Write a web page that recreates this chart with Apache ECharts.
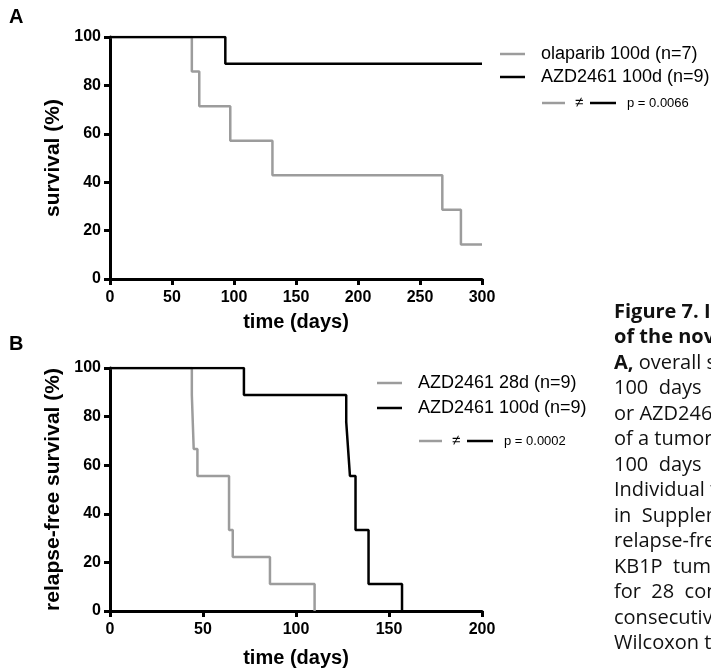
<!DOCTYPE html>
<html>
<head>
<meta charset="utf-8">
<script src="https://cdn.jsdelivr.net/npm/echarts@6/dist/echarts.min.js"></script>
<style>
  html, body { margin: 0; padding: 0; background: #fff; }
  #chart { width: 711px; height: 669px; }
</style>
</head>
<body>
<div id="chart"></div>
<script>
// panel A: overall survival
const olaparibTimes = [0, 66, 72, 97, 131, 268, 283, 300]
const olaparibSurv = [100, 85.7, 71.4, 57.1, 42.9, 28.6, 14.3, 14.3]
const azd100ATimes = [0, 93, 300]
const azd100ASurv = [100, 88.9, 88.9]

// panel B: relapse-free survival
const azd28Times = [0, 44, 45, 47, 64, 66, 86, 110]
const azd28Surv = [100, 88.9, 66.7, 55.6, 33.3, 22.2, 11.1, 0]
const azd100BTimes = [0, 72, 127, 128, 129, 132, 139, 157]
const azd100BSurv = [100, 88.9, 77.8, 66.7, 55.6, 33.3, 11.1, 0]

const legendA = ['olaparib 100d (n=7)', 'AZD2461 100d (n=9)']
const legendB = ['AZD2461 28d (n=9)', 'AZD2461 100d (n=9)']
const pValueA = 'p = 0.0066'
const pValueB = 'p = 0.0002'

const captionLines = [
  'Figure 7. In vivo',
  'of the novel PARP',
  'A, overall survival',
  '100  days  with',
  'or AZD2461',
  'of a tumor',
  '100  days  of',
  'Individual tumor',
  'in  Supplementary',
  'relapse-free',
  'KB1P  tumor',
  'for  28  consecutive',
  'consecutive days',
  'Wilcoxon test',
]

const GREY = '#9c9c9c'
const BLACK = '#000'
const FONT = "'Liberation Sans', Arial, sans-serif"
const CAP_FONT = "'Open Sans', sans-serif"

const zip = (xs, ys) => xs.map((x, i) => [x, ys[i]])

function xAxisOpt(gridIndex, max, interval, gap) {
  return {
    type: 'value',
    gridIndex,
    min: 0,
    max,
    interval,
    name: 'time (days)',
    nameLocation: 'middle',
    nameGap: gap,
    nameTextStyle: { fontFamily: FONT, fontWeight: 'bold', fontSize: 20, color: BLACK },
    axisLine: { show: true, lineStyle: { color: BLACK, width: 3 } },
    axisTick: { show: true, length: 6, lineStyle: { color: BLACK, width: 3 } },
    axisLabel: { fontFamily: FONT, fontWeight: 'bold', fontSize: 16, color: BLACK, margin: 11 },
    splitLine: { show: false },
  }
}

function yAxisOpt(gridIndex, name) {
  return {
    type: 'value',
    gridIndex,
    min: 0,
    max: 100,
    interval: 20,
    name,
    nameLocation: 'middle',
    nameGap: 45,
    nameTextStyle: { fontFamily: FONT, fontWeight: 'bold', fontSize: 21, color: BLACK },
    axisLine: { show: true, lineStyle: { color: BLACK, width: 3 } },
    axisTick: { show: true, length: 6, lineStyle: { color: BLACK, width: 3 } },
    axisLabel: { fontFamily: FONT, fontWeight: 'bold', fontSize: 16, color: BLACK, margin: 9 },
    splitLine: { show: false },
  }
}

function kmSeries(name, idx, data, color) {
  return {
    name,
    type: 'line',
    xAxisIndex: idx,
    yAxisIndex: idx,
    step: 'end',
    data,
    symbol: 'none',
    lineStyle: { color, width: 2.5 },
    itemStyle: { color },
    animation: false,
  }
}

// legend block drawn by hand (the "≠" row is not a normal legend item)
function legendBlock(x, y, names, pText, rowGap, pY) {
  const items = []
  const colors = [GREY, BLACK]
  names.forEach((n, i) => {
    const cy = y + i * rowGap
    items.push({ type: 'line', shape: { x1: x, y1: cy, x2: x + 25, y2: cy }, style: { stroke: colors[i], lineWidth: 2.5 } })
    items.push({ type: 'text', x: x + 41, y: cy, style: { text: n, font: '18px ' + FONT, fill: BLACK, verticalAlign: 'middle' } })
  })
  const px = x + 42
  items.push({ type: 'line', shape: { x1: px, y1: pY, x2: px + 23, y2: pY }, style: { stroke: GREY, lineWidth: 2.5 } })
  items.push({ type: 'text', x: px + 37, y: pY, style: { text: '≠', font: '15px ' + FONT, fill: BLACK, align: 'center', verticalAlign: 'middle' } })
  items.push({ type: 'line', shape: { x1: px + 48, y1: pY, x2: px + 74, y2: pY }, style: { stroke: BLACK, lineWidth: 2.5 } })
  items.push({ type: 'text', x: px + 85, y: pY, style: { text: pText, font: '13px ' + FONT, fill: BLACK, verticalAlign: 'middle' } })
  return items
}

const captionItems = captionLines.map((t, i) => {
  const y = 312 + i * 25.5
  if (i < 2) {
    return { type: 'text', x: 614, y, style: { text: t, font: 'bold 20px ' + CAP_FONT, fill: '#111', verticalAlign: 'middle' } }
  }
  if (i === 2) {
    return {
      type: 'text', x: 614, y,
      style: {
        text: '{b|A,} ' + t.slice(3),
        rich: { b: { font: 'bold 20px ' + CAP_FONT, fill: '#111' } },
        font: '20px ' + CAP_FONT, fill: '#111', verticalAlign: 'middle',
      },
    }
  }
  return { type: 'text', x: 614, y, style: { text: t, font: '20px ' + CAP_FONT, fill: '#111', verticalAlign: 'middle' } }
})

const chart = echarts.init(document.getElementById('chart'), null, { renderer: 'canvas' })

chart.setOption({
  backgroundColor: '#fff',
  animation: false,
  grid: [
    { left: 110, top: 37, width: 372, height: 242 },
    { left: 110, top: 368, width: 372, height: 243 },
  ],
  xAxis: [xAxisOpt(0, 300, 50, 33), xAxisOpt(1, 200, 50, 37)],
  yAxis: [yAxisOpt(0, 'survival (%)'), yAxisOpt(1, 'relapse-free survival (%)')],
  series: [
    kmSeries(legendA[0], 0, zip(olaparibTimes, olaparibSurv), GREY),
    kmSeries(legendA[1], 0, zip(azd100ATimes, azd100ASurv), BLACK),
    kmSeries(legendB[0], 1, zip(azd28Times, azd28Surv), GREY),
    kmSeries(legendB[1], 1, zip(azd100BTimes, azd100BSurv), BLACK),
  ],
  graphic: [
    { type: 'text', x: 9, y: 17, style: { text: 'A', font: 'bold 20px ' + FONT, fill: BLACK, verticalAlign: 'middle' } },
    { type: 'text', x: 9, y: 344, style: { text: 'B', font: 'bold 20px ' + FONT, fill: BLACK, verticalAlign: 'middle' } },
    ...legendBlock(500, 54, legendA, pValueA, 23, 103),
    ...legendBlock(377, 383, legendB, pValueB, 25, 441),
    ...captionItems,
  ],
})
</script>
</body>
</html>
